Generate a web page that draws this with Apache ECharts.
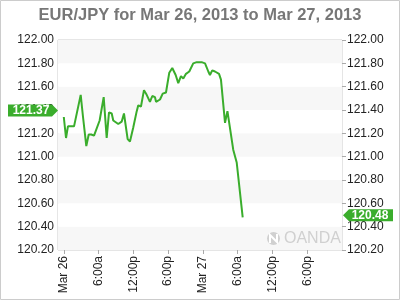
<!DOCTYPE html>
<html><head><meta charset="utf-8">
<script src="https://cdn.jsdelivr.net/npm/echarts@6/dist/echarts.min.js"></script>
<style>html,body{margin:0;padding:0;background:#fff}#c{width:400px;height:300px}</style>
</head><body><div id="c"></div>
<script>
const titleText = 'EUR/JPY for Mar 26, 2013 to Mar 27, 2013';
const times = ['2013-03-26 00:00','2013-03-26 00:23','2013-03-26 00:43','2013-03-26 01:04','2013-03-26 01:46','2013-03-26 02:55','2013-03-26 03:19','2013-03-26 03:53','2013-03-26 04:18','2013-03-26 04:44','2013-03-26 05:13','2013-03-26 06:11','2013-03-26 06:53','2013-03-26 07:24','2013-03-26 07:48','2013-03-26 08:16','2013-03-26 08:32','2013-03-26 09:24','2013-03-26 09:59','2013-03-26 10:23','2013-03-26 11:01','2013-03-26 11:25','2013-03-26 11:59','2013-03-26 12:35','2013-03-26 12:51','2013-03-26 13:19','2013-03-26 13:50','2013-03-26 14:18','2013-03-26 14:52','2013-03-26 15:16','2013-03-26 15:44','2013-03-26 15:55','2013-03-26 16:36','2013-03-26 17:04','2013-03-26 17:38','2013-03-26 18:12','2013-03-26 18:43','2013-03-26 19:18','2013-03-26 19:45','2013-03-26 20:13','2013-03-26 20:37','2013-03-26 21:05','2013-03-26 21:39','2013-03-26 22:20','2013-03-26 22:56','2013-03-26 23:13','2013-03-26 23:47','2013-03-27 00:22','2013-03-27 00:56','2013-03-27 01:13','2013-03-27 01:37','2013-03-27 02:05','2013-03-27 02:47','2013-03-27 03:07','2013-03-27 03:49','2013-03-27 04:14','2013-03-27 04:33','2013-03-27 05:14','2013-03-27 05:50','2013-03-27 06:52'];
const rates = [121.34,121.16,121.26,121.26,121.26,121.53,121.34,121.09,121.19,121.19,121.18,121.31,121.51,121.16,121.38,121.37,121.31,121.28,121.30,121.37,121.15,121.13,121.25,121.39,121.44,121.43,121.57,121.53,121.47,121.52,121.51,121.47,121.49,121.54,121.55,121.72,121.76,121.70,121.63,121.69,121.67,121.71,121.73,121.80,121.81,121.80,121.81,121.80,121.73,121.70,121.74,121.73,121.71,121.66,121.29,121.39,121.38,121.06,120.95,120.48];
const tickTimes = ['2013-03-26 00:00','2013-03-26 06:00','2013-03-26 12:00','2013-03-26 18:00','2013-03-27 00:00','2013-03-27 06:00','2013-03-27 12:00','2013-03-27 18:00'];
const tickLabels = ['Mar 26','6:00a','12:00p','6:00p','Mar 27','6:00a','12:00p','6:00p'];
const xStart = '2013-03-25 23:00';
const xEnd = '2013-03-28 00:00';
const yMin = 120.2, yMax = 122.0, yStep = 0.2;
const openRate = 121.37;
const lastRate = 120.48;

function ts(s){const [d,t]=s.split(' ');const [Y,M,D]=d.split('-').map(Number);const [h,m]=t.split(':').map(Number);return new Date(Y,M-1,D,h,m).getTime();}
const data = times.map((t,i)=>[ts(t),rates[i]]);
const tickVals = tickTimes.map(ts);
const green = '#3aad2c';
const font = "'Liberation Sans', Arial, sans-serif";

const chart = echarts.init(document.getElementById('c'), null, {renderer:'canvas'});
chart.setOption({
  animation:false,
  textStyle:{fontFamily:font},
  title:{text:titleText,left:'center',top:2,textStyle:{fontFamily:font,fontSize:16.5,fontWeight:'bold',color:'#777'}},
  grid:{left:58,right:58,top:40,bottom:50,show:true,borderColor:'#ccc',borderWidth:1,backgroundColor:'transparent'},
  xAxis:{type:'value',min:ts(xStart),max:ts(xEnd),
    axisLine:{show:false},
    axisTick:{show:true,length:4,lineStyle:{color:'#aaa'},customValues:tickVals},
    splitLine:{show:false},
    axisLabel:{rotate:90,margin:6,fontSize:12,color:'#222',fontFamily:font,customValues:tickVals,
      formatter:function(v){const i=tickVals.indexOf(v);return i>=0?tickLabels[i]:'';}}},
  yAxis:[
    {type:'value',min:yMin,max:yMax,interval:yStep,position:'left',
     axisLine:{show:false},axisTick:{show:false},splitLine:{show:false},
     splitArea:{show:true,areaStyle:{color:['#f7f7f7','#ffffff']}},
     axisLabel:{margin:4,fontSize:12,color:'#222',fontFamily:font,formatter:v=>v.toFixed(2)}},
    {type:'value',min:yMin,max:yMax,interval:yStep,position:'right',
     axisLine:{show:false},axisTick:{show:true,length:4,lineStyle:{color:'#aaa'}},splitLine:{show:false},
     axisLabel:{margin:5,fontSize:12,color:'#222',fontFamily:font,formatter:v=>v.toFixed(2)}}
  ],
  graphic:[
    {type:'rect',shape:{x:0.5,y:0.5,width:399,height:299},style:{fill:'none',stroke:'#ccc',lineWidth:1},z:100},
    {type:'circle',shape:{cx:273.5,cy:238.5,r:6.5},style:{fill:'#d0d0d0'},z:1},
    {type:'polyline',shape:{points:[[270,243],[270,235],[277,242],[277,234]]},style:{stroke:'#fff',lineWidth:2,fill:'none'},z:1},
    {type:'text',left:284,top:231,style:{text:'OANDA',fontSize:16,fontFamily:font,fill:'#d0d0d0'},z:1}
  ],
  series:[{
    type:'line',data:data,showSymbol:false,yAxisIndex:0,
    lineStyle:{color:green,width:2},itemStyle:{color:green},
    markPoint:{
      silent:true,
      data:[
        {coord:[ts(xStart),openRate],symbol:'path://M0,0 L44,0 L50,6 L44,12 L0,12 Z',symbolSize:[50,12],symbolKeepAspect:false,symbolOffset:[-25,-3],
         itemStyle:{color:green},label:{show:true,position:'inside',offset:[-2,0],formatter:openRate.toFixed(2),color:'#fff',fontWeight:'bold',fontSize:12,fontFamily:font}},
        {coord:[ts(xEnd),lastRate],symbol:'path://M6,0 L50,0 L50,12 L6,12 L0,6 Z',symbolSize:[50,12],symbolKeepAspect:false,symbolOffset:[26,-2],
         itemStyle:{color:green},label:{show:true,position:'inside',offset:[2,0],formatter:lastRate.toFixed(2),color:'#fff',fontWeight:'bold',fontSize:12,fontFamily:font}}
      ]
    }
  }]
});
</script></body></html>
